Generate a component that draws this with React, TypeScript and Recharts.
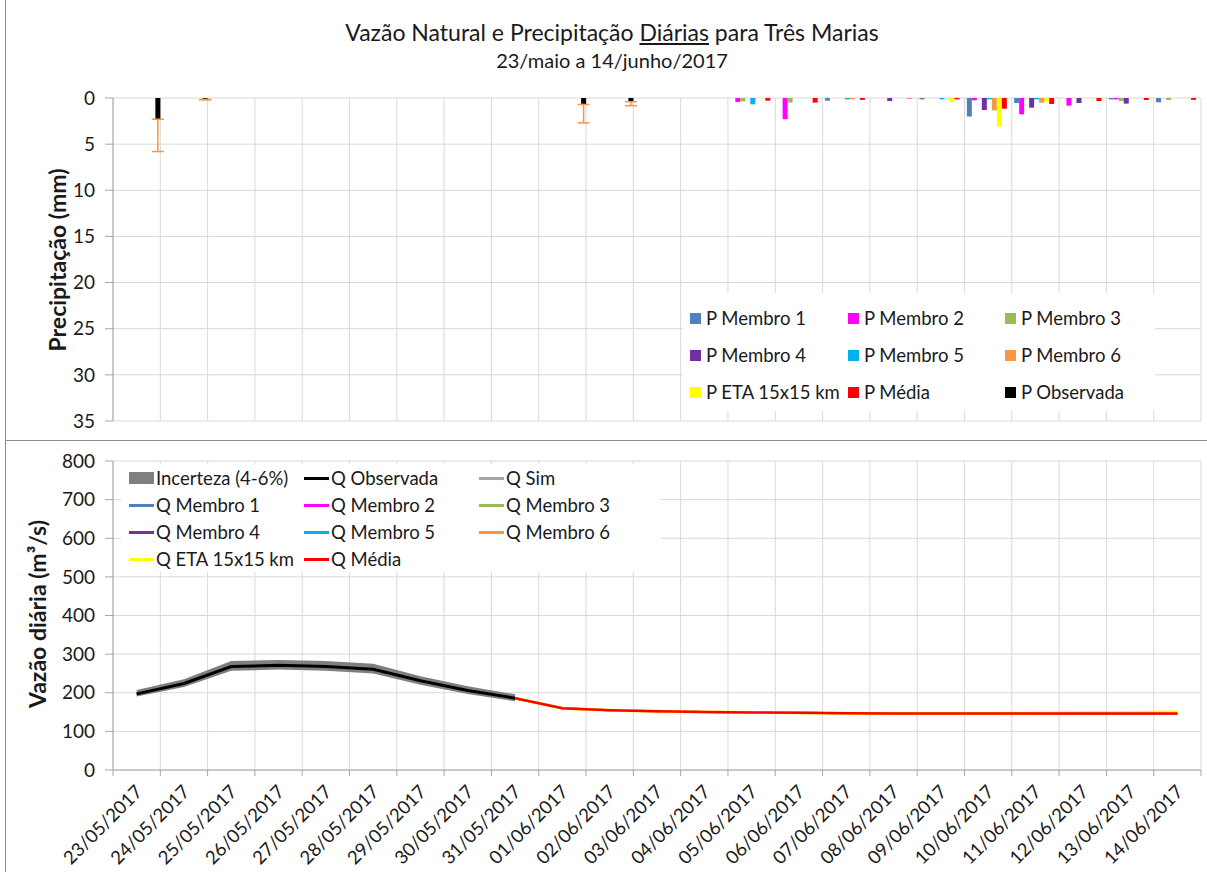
import React from 'react';
import { BarChart, Bar, XAxis, YAxis, CartesianGrid, ErrorBar, ComposedChart, Line, Area } from 'recharts';

const FONT = 'Lato, "Liberation Sans", sans-serif';
const TEXT = '#1a1a1a';
const GRID = '#d9d9d9';
const AXIS = '#a6a6a6';
const PLOT_L = 113;
const PLOT_R = 1201;

const dates = [
  '23/05/2017', '24/05/2017', '25/05/2017', '26/05/2017', '27/05/2017', '28/05/2017',
  '29/05/2017', '30/05/2017', '31/05/2017', '01/06/2017', '02/06/2017', '03/06/2017',
  '04/06/2017', '05/06/2017', '06/06/2017', '07/06/2017', '08/06/2017', '09/06/2017',
  '10/06/2017', '11/06/2017', '12/06/2017', '13/06/2017', '14/06/2017',
];
const N = dates.length;
const BW = (PLOT_R - PLOT_L) / N;

// Precipitation (mm)
const pMembro1 = [null, null, null, null, null, null, null, null, null, null, null, null, null, 0, 0, 0.29, 0, 0.15, 2.0, 0.54, 0, 0.15, 0.47];
const pMembro2 = [null, null, null, null, null, null, null, null, null, null, null, null, null, 0.43, 2.3, 0, 0, 0, 0.25, 1.77, 0.83, 0.15, 0];
const pMembro3 = [null, null, null, null, null, null, null, null, null, null, null, null, null, 0.36, 0.5, 0, 0, 0, 0, 0, 0, 0.33, 0.22];
const pMembro4 = [null, null, null, null, null, null, null, null, null, null, null, null, null, 0, 0, 0, 0.33, 0, 1.3, 1.05, 0.54, 0.61, 0];
const pMembro5 = [null, null, null, null, null, null, null, null, null, null, null, null, null, 0.69, 0, 0.15, 0, 0.15, 0.15, 0.15, 0, 0, 0];
const pMembro6 = [null, null, null, null, null, null, null, null, null, null, null, null, null, 0, 0, 0.15, 0, 0, 1.34, 0.5, 0, 0, 0];
const pEta = [null, null, null, null, null, null, null, null, null, null, null, null, null, 0, 0, 0, 0, 0.43, 3.07, 0.33, 0, 0, 0];
const pMedia = [null, null, null, null, null, null, null, null, null, null, null, null, null, 0.29, 0.5, 0.2, 0.05, 0.15, 1.16, 0.65, 0.33, 0.22, 0.2];
const pObservada = [2.3, 0.15, 0, 0, 0, 0, 0, 0, 0, 0.7, 0.4, 0, 0, null, null, null, null, null, null, null, null, null, null];
const pObsErroSup = [3.5, 0.05, 0, 0, 0, 0, 0, 0, 0, 2.0, 0.43, 0, 0, null, null, null, null, null, null, null, null, null, null];

const precipTicks = [0, 5, 10, 15, 20, 25, 30, 35];

// Flow (m3/s)
const qObservada = [197, 224, 268, 271, 268, 261, 231, 206, 186, null, null, null, null, null, null, null, null, null, null, null, null, null, null];
const qIncertezaMin = [190, 215, 257, 260, 257, 250, 221, 197, 178, null, null, null, null, null, null, null, null, null, null, null, null, null, null];
const qIncertezaMax = [207, 235, 282, 285, 282, 275, 243, 217, 196, null, null, null, null, null, null, null, null, null, null, null, null, null, null];
const qSim = [198, 225, 267, 270, 267, 260, 230, 205, 186, null, null, null, null, null, null, null, null, null, null, null, null, null, null];
const qMembro1 = [null, null, null, null, null, null, null, null, 186, 160, 155, 152, 150, 149, 148, 147, 146, 146, 146, 146, 146, 146, 146];
const qMembro2 = [null, null, null, null, null, null, null, null, 186, 160, 155, 152, 150, 149, 148, 147, 146, 146, 146, 146, 146, 146, 146];
const qMembro3 = [null, null, null, null, null, null, null, null, 186, 160, 155, 152, 150, 149, 148, 147, 146, 146, 146, 146, 146, 146, 146];
const qMembro4 = [null, null, null, null, null, null, null, null, 186, 160, 155, 152, 150, 149, 148, 147, 146, 146, 146, 146, 146, 146, 146];
const qMembro5 = [null, null, null, null, null, null, null, null, 186, 160, 155, 152, 150, 149, 148, 147, 146, 146, 146, 146, 146, 146, 146];
const qMembro6 = [null, null, null, null, null, null, null, null, 186, 160, 155, 152, 150, 149, 148, 147, 146, 146, 146, 146, 146, 146, 146];
const qEta = [null, null, null, null, null, null, null, null, 186, 160, 155, 152, 150, 149, 148, 147, 146, 146, 146, 147, 148, 149, 150];
const qMedia = [null, null, null, null, null, null, null, null, 186, 160, 155, 152, 150, 149, 148, 147, 146, 146, 146, 146, 146, 146, 146];

const flowTicks = [0, 100, 200, 300, 400, 500, 600, 700, 800];

const C = {
  m1: '#4F81BD', m2: '#FF00FF', m3: '#9BBB59', m4: '#7030A0', m5: '#00B0F0', m6: '#F79646',
  eta: '#FFFF00', media: '#FF0000', obs: '#000000', sim: '#A6A6A6', inc: '#7F7F7F',
};

const precipData = dates.map((d, i) => ({
  date: d,
  m1: pMembro1[i], m2: pMembro2[i], m3: pMembro3[i], m4: pMembro4[i], m5: pMembro5[i],
  m6: pMembro6[i], eta: pEta[i], media: pMedia[i], obs: pObservada[i],
  obsErr: pObsErroSup[i] == null ? undefined : [0, pObsErroSup[i]],
}));

const flowData = dates.map((d, i) => ({
  date: d,
  band: qIncertezaMin[i] == null ? undefined : [qIncertezaMin[i], qIncertezaMax[i]],
  obs: qObservada[i], sim: qSim[i],
  m1: qMembro1[i], m2: qMembro2[i], m3: qMembro3[i], m4: qMembro4[i], m5: qMembro5[i], m6: qMembro6[i],
  eta: qEta[i], media: qMedia[i],
}));

const gridGen = (p: any) => {
  const left = p?.offset?.left ?? PLOT_L;
  const w = p?.offset?.width ?? PLOT_R - PLOT_L;
  return Array.from({ length: N + 1 }, (_, i) => left + (i * w) / N);
};

const XTick = (props: any) => {
  const { x, y, payload, index } = props;
  const axisY = y - 16;
  const bx = x - BW / 2;
  const tx = x + 2;
  const ty = y + 2;
  return (
    <g>
      <line x1={bx} y1={axisY} x2={bx} y2={axisY + 6} stroke={AXIS} />
      {index === N - 1 && <line x1={x + BW / 2} y1={axisY} x2={x + BW / 2} y2={axisY + 6} stroke={AXIS} />}
      <text
        x={tx}
        y={ty}
        textAnchor="end"
        dominantBaseline="central"
        transform={`rotate(-45 ${tx} ${ty})`}
        fontSize={18.5}
        fontFamily={FONT}
        fill={TEXT}
      >
        {payload.value}
      </text>
    </g>
  );
};

const topLegend = [
  { label: 'P Membro 1', color: C.m1 }, { label: 'P Membro 2', color: C.m2 }, { label: 'P Membro 3', color: C.m3 },
  { label: 'P Membro 4', color: C.m4 }, { label: 'P Membro 5', color: C.m5 }, { label: 'P Membro 6', color: C.m6 },
  { label: 'P ETA 15x15 km', color: C.eta }, { label: 'P Média', color: C.media }, { label: 'P Observada', color: C.obs },
];
const topCols = [690, 848, 1005];
const topRows = [318, 355, 392];

const botLegend = [
  { label: 'Incerteza (4-6%)', color: C.inc, area: true }, { label: 'Q Observada', color: C.obs }, { label: 'Q Sim', color: C.sim },
  { label: 'Q Membro 1', color: C.m1 }, { label: 'Q Membro 2', color: C.m2 }, { label: 'Q Membro 3', color: C.m3 },
  { label: 'Q Membro 4', color: C.m4 }, { label: 'Q Membro 5', color: C.m5 }, { label: 'Q Membro 6', color: C.m6 },
  { label: 'Q ETA 15x15 km', color: C.eta }, { label: 'Q Média', color: C.media },
];
const botCols = [129, 304, 479];
const botRows = [478, 505, 532, 559];

export default function App() {
  return (
    <div style={{ position: 'absolute', left: 0, top: 0, width: 1207, height: 872, background: '#fff', overflow: 'hidden', fontFamily: FONT, color: TEXT }}>
      {/* frame lines */}
      <div style={{ position: 'absolute', left: 5, top: 0, width: 1, height: 872, background: '#8c8c8c' }} />
      <div style={{ position: 'absolute', left: 5, top: 440, width: 1202, height: 1, background: '#8c8c8c' }} />

      {/* Titles */}
      <div style={{ position: 'absolute', left: 0, width: 1224, top: 18, textAlign: 'center', fontSize: 23, lineHeight: '28px' }}>
        Vazão Natural e Precipitação <span style={{ textDecoration: 'underline' }}>Diárias</span> para Três Marias
      </div>
      <div style={{ position: 'absolute', left: 0, width: 1224, top: 48, textAlign: 'center', fontSize: 20, lineHeight: '24px' }}>
        23/maio a 14/junho/2017
      </div>

      {/* Precipitation chart */}
      <div style={{ position: 'absolute', left: 0, top: 0 }}>
        <BarChart width={1207} height={440} data={precipData} margin={{ top: 98, right: 1207 - PLOT_R, bottom: 19, left: 0 }} barGap={0} barCategoryGap="5%">
          <CartesianGrid stroke={GRID} verticalCoordinatesGenerator={gridGen} />
          <XAxis dataKey="date" hide />
          <YAxis
            width={PLOT_L}
            reversed
            domain={[0, 35]}
            ticks={precipTicks}
            interval={0}
            tickSize={8}
            tickMargin={10}
            stroke={AXIS}
            tick={{ fontSize: 19, fill: TEXT, fontFamily: FONT }}
          />
          <Bar dataKey="m1" fill={C.m1} isAnimationActive={false} />
          <Bar dataKey="m2" fill={C.m2} isAnimationActive={false} />
          <Bar dataKey="m3" fill={C.m3} isAnimationActive={false} />
          <Bar dataKey="m4" fill={C.m4} isAnimationActive={false} />
          <Bar dataKey="m5" fill={C.m5} isAnimationActive={false} />
          <Bar dataKey="m6" fill={C.m6} isAnimationActive={false} />
          <Bar dataKey="eta" fill={C.eta} isAnimationActive={false} />
          <Bar dataKey="media" fill={C.media} isAnimationActive={false} />
          <Bar dataKey="obs" fill={C.obs} isAnimationActive={false}>
            <ErrorBar dataKey="obsErr" direction="y" width={6} stroke={C.m6} strokeWidth={1.5} isAnimationActive={false} />
          </Bar>
        </BarChart>
      </div>

      {/* Flow chart */}
      <div style={{ position: 'absolute', left: 0, top: 440 }}>
        <ComposedChart width={1207} height={432} data={flowData} margin={{ top: 21, right: 1207 - PLOT_R, bottom: 0, left: 0 }}>
          <CartesianGrid stroke={GRID} verticalCoordinatesGenerator={gridGen} />
          <XAxis
            dataKey="date"
            scale="band"
            height={102}
            interval={0}
            tickSize={0}
            tickMargin={16}
            stroke={AXIS}
            tick={<XTick />}
          />
          <YAxis
            width={PLOT_L}
            domain={[0, 800]}
            ticks={flowTicks}
            interval={0}
            tickSize={8}
            tickMargin={10}
            stroke={AXIS}
            tick={{ fontSize: 19, fill: TEXT, fontFamily: FONT }}
          />
          <Line dataKey="sim" stroke={C.sim} strokeWidth={2} dot={false} isAnimationActive={false} />
          <Area dataKey="band" stroke="none" fill={C.inc} fillOpacity={1} isAnimationActive={false} />
          <Line dataKey="m1" stroke={C.m1} strokeWidth={2} dot={false} isAnimationActive={false} />
          <Line dataKey="m2" stroke={C.m2} strokeWidth={2} dot={false} isAnimationActive={false} />
          <Line dataKey="m3" stroke={C.m3} strokeWidth={2} dot={false} isAnimationActive={false} />
          <Line dataKey="m4" stroke={C.m4} strokeWidth={2} dot={false} isAnimationActive={false} />
          <Line dataKey="m5" stroke={C.m5} strokeWidth={2} dot={false} isAnimationActive={false} />
          <Line dataKey="m6" stroke={C.m6} strokeWidth={2} dot={false} isAnimationActive={false} />
          <Line dataKey="eta" stroke={C.eta} strokeWidth={3} dot={false} isAnimationActive={false} />
          <Line dataKey="obs" stroke={C.obs} strokeWidth={3} dot={false} isAnimationActive={false} />
          <Line dataKey="media" stroke={C.media} strokeWidth={2.5} dot={false} isAnimationActive={false} />
        </ComposedChart>
      </div>

      {/* Axis titles */}
      <div style={{ position: 'absolute', left: 57, top: 260, transform: 'translate(-50%, -50%) rotate(-90deg)', whiteSpace: 'nowrap', fontSize: 23, fontWeight: 700 }}>
        Precipitação (mm)
      </div>
      <div style={{ position: 'absolute', left: 37, top: 614, transform: 'translate(-50%, -50%) rotate(-90deg)', whiteSpace: 'nowrap', fontSize: 23, fontWeight: 700 }}>
        Vazão diária (m³/s)
      </div>

      {/* Top legend */}
      <div style={{ position: 'absolute', left: 683, top: 293, width: 472, height: 118, background: '#fff' }} />
      {topLegend.map((it, i) => (
        <div key={it.label} style={{ position: 'absolute', left: topCols[i % 3], top: topRows[Math.floor(i / 3)] - 12, height: 24, display: 'flex', alignItems: 'center', whiteSpace: 'nowrap', fontSize: 18.5 }}>
          <span style={{ display: 'inline-block', width: 11, height: 11, background: it.color, marginRight: 5 }} />
          <span>{it.label}</span>
        </div>
      ))}

      {/* Bottom legend */}
      <div style={{ position: 'absolute', left: 121, top: 464, width: 540, height: 108, background: '#fff' }} />
      {botLegend.map((it, i) => (
        <div key={it.label} style={{ position: 'absolute', left: botCols[i % 3], top: botRows[Math.floor(i / 3)] - 12, height: 24, display: 'flex', alignItems: 'center', whiteSpace: 'nowrap', fontSize: 18.5 }}>
          {it.area ? (
            <span style={{ display: 'inline-block', width: 25, height: 12, background: it.color, marginRight: 2 }} />
          ) : (
            <span style={{ display: 'inline-block', width: 25, height: 3, background: it.color, marginRight: 2 }} />
          )}
          <span>{it.label}</span>
        </div>
      ))}
    </div>
  );
}
